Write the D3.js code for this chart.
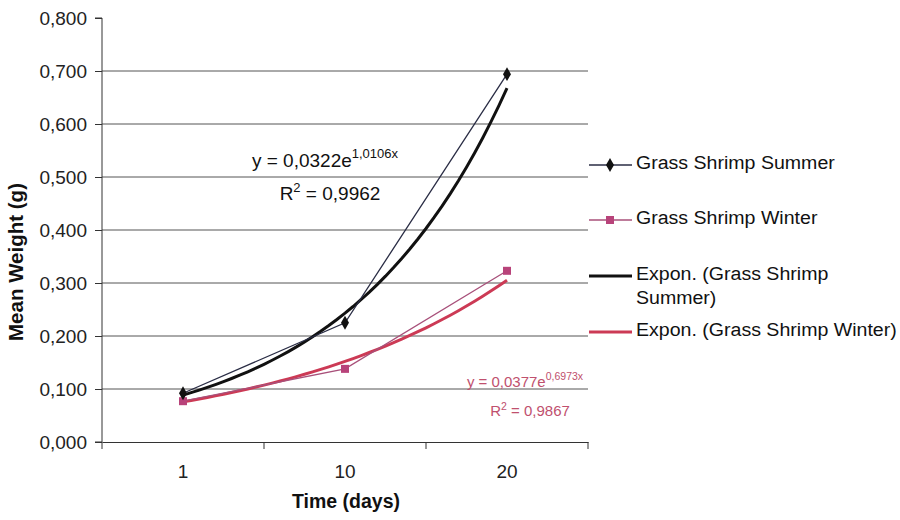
<!DOCTYPE html>
<html><head><meta charset="utf-8">
<script src="https://cdn.jsdelivr.net/npm/d3@7"></script>
<style>body{margin:0;background:#fff}svg{font-family:"Liberation Sans",Arial,sans-serif}</style>
</head><body><svg id="c" width="900" height="520"></svg>
<script>
const categories = ["1", "10", "20"];
const summerValues = [0.092, 0.225, 0.694];
const winterValues = [0.077, 0.138, 0.323];
const yTicks = [0, 0.1, 0.2, 0.3, 0.4, 0.5, 0.6, 0.7, 0.8];
// trendline coefficients as printed on the chart: y = a * e^(b x), x = category index (1..3)
const summerFit = {a: 0.0322, b: 1.0106, r2: "0,9962", aText: "0,0322", bText: "1,0106"};
const winterFit = {a: 0.0377, b: 0.6973, r2: "0,9867", aText: "0,0377", bText: "0,6973"};
const legendLabels = ["Grass Shrimp Summer", "Grass Shrimp Winter", ["Expon. (Grass Shrimp", "Summer)"], "Expon. (Grass Shrimp Winter)"];

const svg = d3.select("#c");
const L = 102, R = 588, T = 18, B = 442;
const y = d3.scaleLinear().domain([0, 0.8]).range([B, T]);
const x = d3.scaleBand().domain(categories).range([L, R]);
const xc = d => x(d) + x.bandwidth() / 2;
const xi = d3.scaleLinear().domain([1, 3]).range([xc(categories[0]), xc(categories[2])]);
const fmt = v => d3.format(".3f")(v).replace(".", ",");
const FONT = "Liberation Sans, Arial, sans-serif";

// horizontal stretch of text about its anchor point
function stretch(sel, sx) {
  sel.each(function () {
    const t = d3.select(this);
    const ax = +t.attr("x") || 0, ay = +t.attr("y") || 0;
    t.attr("transform", `translate(${ax},${ay}) scale(${sx},1) translate(${-ax},${-ay})`);
  });
}

// gridlines
svg.append("g").selectAll("line").data(yTicks.filter(v => v > 0 && v < 0.8)).join("line")
  .attr("x1", L).attr("x2", R).attr("y1", d => y(d)).attr("y2", d => y(d))
  .attr("stroke", "#555").attr("stroke-width", 1);

// y axis
const ya = svg.append("g").attr("transform", `translate(${L},0)`)
  .call(d3.axisLeft(y).tickValues(yTicks).tickFormat(fmt).tickSize(7).tickPadding(8));
ya.select(".domain").attr("stroke", "#333").attr("d", `M-7,${T}H0V${B}H-7`);
ya.selectAll("line").attr("stroke", "#333");
ya.selectAll("text").attr("font-size", 19).attr("fill", "#222").attr("font-family", FONT);

// x axis
const xa = svg.append("g").attr("transform", `translate(0,${B})`)
  .call(d3.axisBottom(x).tickSize(0).tickPadding(23));
xa.select(".domain").attr("stroke", "#333");
xa.selectAll("text").attr("font-size", 19).attr("fill", "#222").attr("font-family", FONT);
svg.append("g").selectAll("line").data(d3.range(categories.length + 1)).join("line")
  .attr("x1", i => L + i * x.bandwidth()).attr("x2", i => L + i * x.bandwidth())
  .attr("y1", B).attr("y2", B + 7).attr("stroke", "#333");

// axis titles
svg.append("text").attr("x", 346).attr("y", 508).attr("text-anchor", "middle")
  .attr("font-weight", "bold").attr("font-size", 19.5).attr("fill", "#111").text("Time (days)");
svg.append("text").attr("transform", "translate(23,262) rotate(-90)").attr("text-anchor", "middle")
  .attr("font-weight", "bold").attr("font-size", 20.5).attr("fill", "#111").text("Mean Weight (g)");

// fit curves
const fitLine = d3.line().x(d => xi(d[0])).y(d => y(d[1]));
function fitPts(f) { return d3.range(1, 3.0001, 0.05).map(t => [t, f.a * Math.exp(f.b * t)]); }
svg.append("path").attr("d", fitLine(fitPts(summerFit))).attr("fill", "none")
  .attr("stroke", "#111").attr("stroke-width", 3);
svg.append("path").attr("d", fitLine(fitPts(winterFit))).attr("fill", "none")
  .attr("stroke", "#cc3a55").attr("stroke-width", 3);

// data lines
const dl = d3.line().x((d, i) => xc(categories[i])).y(d => y(d));
svg.append("path").attr("d", dl(winterValues)).attr("fill", "none").attr("stroke", "#a8507a").attr("stroke-width", 1.3);
svg.append("path").attr("d", dl(summerValues)).attr("fill", "none").attr("stroke", "#2a2d45").attr("stroke-width", 1.3);
svg.append("g").selectAll("rect").data(winterValues).join("rect")
  .attr("x", (d, i) => xc(categories[i]) - 4).attr("y", d => y(d) - 4).attr("width", 8).attr("height", 8)
  .attr("fill", "#b8437a");
svg.append("g").selectAll("path").data(summerValues).join("path")
  .attr("d", d3.symbol(d3.symbolDiamond, 55)).attr("transform", (d, i) => `translate(${xc(categories[i])},${y(d)})`)
  .attr("fill", "#111");

// equations
function eq(f, cx, cy, rx, ry, color, fs, supFs, sx) {
  const t = svg.append("text").attr("x", cx).attr("y", cy).attr("text-anchor", "middle")
    .attr("font-size", fs).attr("fill", color);
  t.append("tspan").text(`y = ${f.aText}e`);
  t.append("tspan").attr("dy", -fs * 0.45).attr("font-size", supFs).text(`${f.bText}x`);
  const r = svg.append("text").attr("x", rx).attr("y", ry).attr("text-anchor", "middle")
    .attr("font-size", fs).attr("fill", color);
  r.append("tspan").text("R");
  r.append("tspan").attr("dy", -fs * 0.4).attr("font-size", supFs).text("2");
  r.append("tspan").attr("dy", fs * 0.4).text(` = ${f.r2}`);
  stretch(t, sx); stretch(r, sx);
}
eq(summerFit, 325, 167, 330, 200, "#111", 19, 13, 1.0);
eq(winterFit, 525, 387, 530, 416, "#c0506e", 15, 10.5, 1.0);

// legend
const lx = 589, tx = 636;
const ly = [165, 220, 276, 332];
svg.append("line").attr("x1", lx).attr("x2", lx + 43).attr("y1", ly[0]).attr("y2", ly[0]).attr("stroke", "#2a2d45").attr("stroke-width", 1.3);
svg.append("path").attr("d", d3.symbol(d3.symbolDiamond, 55)).attr("transform", `translate(${lx + 21},${ly[0]})`).attr("fill", "#111");
svg.append("line").attr("x1", lx).attr("x2", lx + 43).attr("y1", ly[1]).attr("y2", ly[1]).attr("stroke", "#a8507a").attr("stroke-width", 1.3);
svg.append("rect").attr("x", lx + 17).attr("y", ly[1] - 4).attr("width", 8).attr("height", 8).attr("fill", "#b8437a");
svg.append("line").attr("x1", lx).attr("x2", lx + 43).attr("y1", ly[2]).attr("y2", ly[2]).attr("stroke", "#111").attr("stroke-width", 3);
svg.append("line").attr("x1", lx).attr("x2", lx + 43).attr("y1", ly[3]).attr("y2", ly[3]).attr("stroke", "#cc3a55").attr("stroke-width", 3);
legendLabels.forEach((lab, i) => {
  const t = svg.append("text").attr("x", tx).attr("y", ly[i] + 4).attr("font-size", 19).attr("fill", "#111");
  if (Array.isArray(lab)) {
    lab.forEach((s, j) => t.append("tspan").attr("x", tx).attr("dy", j ? 24 : 0).text(s));
  } else t.text(lab);
  stretch(t, 1.03);
});
</script></body></html>
